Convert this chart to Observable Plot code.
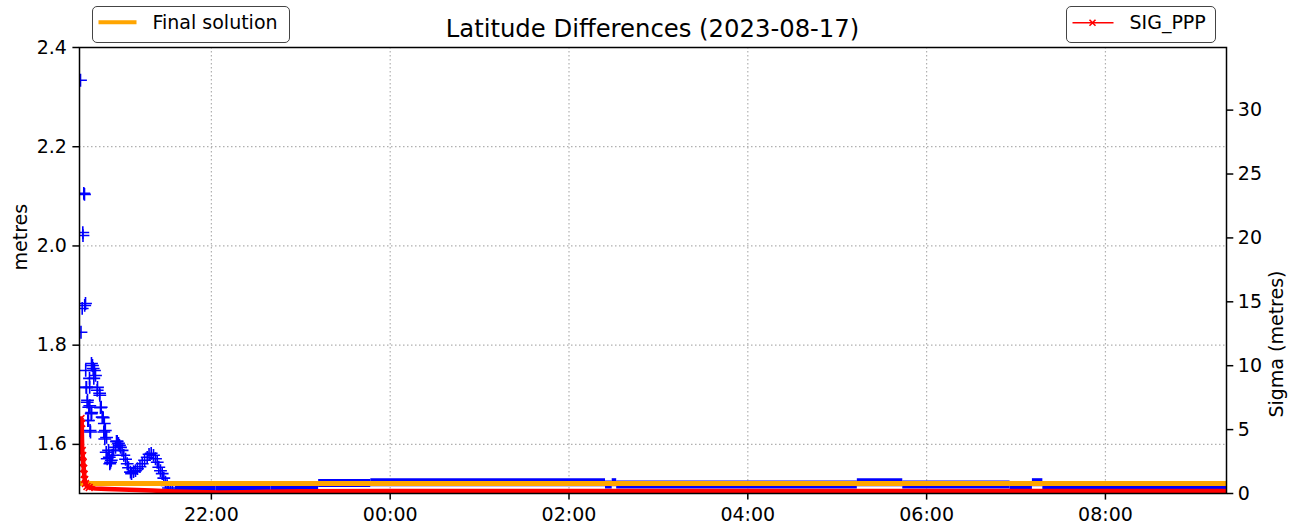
<!DOCTYPE html>
<html>
<head>
<meta charset="utf-8">
<script src="https://cdn.jsdelivr.net/npm/d3@7"></script>
<script src="https://cdn.jsdelivr.net/npm/@observablehq/plot@0.6"></script>
<style>
  body { margin: 0; background: #fff; font-family: "DejaVu Sans", sans-serif; }
  #wrap { position: relative; width: 1299px; height: 531px; overflow: hidden; }
  .title { position: absolute; left: 652.5px; top: 17px; transform: translateX(-50%); font-size: 24.3px; line-height: 24px; white-space: nowrap; color: #000; }
  .leg { position: absolute; box-sizing: border-box; border: 1.5px solid #444; border-radius: 5px; background: rgba(255,255,255,0.85); }
  .leg span { position: absolute; font-size: 19px; line-height: 19px; white-space: nowrap; color: #000; }
  .leg svg { position: absolute; left: 0; top: 0; }
</style>
</head>
<body>
<div id="wrap">
  <div id="chart"></div>
  <div class="title">Latitude Differences (2023-08-17)</div>
  <div class="leg" style="left:92px;top:6px;width:198px;height:37px;">
    <svg width="60" height="34"><line x1="5.5" x2="43.5" y1="15.2" y2="15.2" stroke="#ffa500" stroke-width="4"/></svg>
    <span style="left:59.5px;top:5.5px;">Final solution</span>
  </div>
  <div class="leg" style="left:1066px;top:6px;width:150px;height:37px;">
    <svg width="60" height="34"><line x1="5.5" x2="46.5" y1="15.8" y2="15.8" stroke="#ff0000" stroke-width="1.6"/><path d="M22.5,12.8L28.5,18.8M22.5,18.8L28.5,12.8" stroke="#ff0000" stroke-width="1.6" fill="none"/></svg>
    <span style="left:62.5px;top:5.5px;">SIG_PPP</span>
  </div>
</div>
<script>
// ---------------- data ----------------
const START = "20:31:30";
const END = "09:21:15";

const finalSolution = 1.5212;   // metres (orange line)

// Latitude differences, early convergence (metres)
const blueTime = ["20:32:10","20:32:30","20:33:19","20:33:43","20:33:50","20:34:23","20:34:51","20:35:00","20:35:32","20:35:40",
  "20:36:00","20:36:12","20:36:40","20:36:52","20:37:04","20:37:32","20:37:44","20:38:13","20:38:20","20:38:25",
  "20:38:35","20:38:53","20:39:21","20:39:33","20:39:40","20:40:13","20:40:41","20:41:06","20:41:34","20:42:14",
  "20:43:23","20:43:35","20:45:00","20:45:07","20:45:35","20:46:04","20:46:44","20:47:24","20:47:49","20:48:10",
  "20:48:29","20:48:50","20:49:25","20:49:40","20:50:05","20:51:00","20:51:30","20:51:50","20:52:20","20:52:50",
  "20:53:26","20:54:20","20:55:40","20:56:20","20:56:48","20:57:40","20:58:20","20:59:01","21:00:05","21:01:14",
  "21:02:25","21:03:31","21:04:25","21:05:44","21:06:25","21:07:45","21:09:05","21:10:25","21:12:05","21:13:35",
  "21:15:10","21:16:56","21:18:10","21:19:37","21:21:10","21:22:30","21:23:40","21:24:43","21:25:50","21:27:00",
  "21:28:05","21:29:13","21:30:20","21:31:15","21:32:34","21:33:55","21:35:56"];
const blueVal = [2.334,1.826,1.874,2.027,2.021,2.106,2.104,1.880,1.884,1.749,
  1.715,1.715,1.685,1.689,1.648,1.648,1.675,1.733,1.715,1.678,
  1.628,1.625,1.662,1.763,1.664,1.759,1.753,1.733,1.749,1.739,
  1.709,1.715,1.703,1.699,1.674,1.675,1.655,1.654,1.625,1.642,
  1.611,1.628,1.584,1.614,1.571,1.588,1.574,1.561,1.564,1.568,
  1.578,1.588,1.594,1.606,1.606,1.602,1.598,1.594,1.588,1.578,
  1.570,1.561,1.553,1.544,1.541,1.545,1.547,1.551,1.555,1.561,
  1.568,1.574,1.580,1.582,1.578,1.571,1.564,1.554,1.547,1.541,
  1.532,1.524,1.517,1.512,1.509,1.507,1.507];

// Latitude differences, converged part: constant levels (metres)
const segStart = ["21:36:00","22:03:00","22:40:00","23:12:00","23:47:00","02:24:30","02:29:00","02:32:00","05:13:30","05:44:00","06:56:00","07:11:00","07:18:00"];
const segEnd   = ["22:03:00","22:40:00","23:12:00","23:47:00","02:24:30","02:29:00","02:32:00","05:13:30","05:44:00","06:56:00","07:11:00","07:18:00","09:21:15"];
const segVal   = [1.5101,1.5111,1.5161,1.5222,1.5238,1.5191,1.5238,1.5191,1.5238,1.5191,1.5161,1.5238,1.5181];

// SIG_PPP (metres, right axis)
const sigTime = ["20:32:00","20:32:30","20:33:00","20:33:20","20:33:40","20:34:00","20:34:20","20:34:40","20:35:00","20:35:30",
  "20:36:30","20:38:00","20:42:00","20:50:00","21:00:00","21:10:00","21:20:00","21:35:00","21:50:00","22:05:00",
  "22:20:00","22:35:00","23:00:00","00:00:00","02:00:00","04:00:00","06:00:00","08:00:00","09:21:00"];
const sigVal = [5.63,5.87,5.48,3.36,2.97,2.43,1.96,1.49,1.10,0.78,
  0.55,0.47,0.39,0.35,0.31,0.27,0.23,0.16,0.12,0.08,
  0.10,0.14,0.17,0.19,0.19,0.19,0.19,0.19,0.19];

const yTicks = [1.6, 1.8, 2.0, 2.2, 2.4];
const sigTicks = [0, 5, 10, 15, 20, 25, 30];
const xTickLabels = ["22:00","00:00","02:00","04:00","06:00","08:00"];

const yDomain = [1.501, 2.4];
const sigDomain = [0, 34.9];

// ---------------- build ----------------
function parseT(s) {
  const [h, m, sec] = s.split(":").map(Number);
  const day = h >= 12 ? 17 : 18;
  return new Date(Date.UTC(2023, 7, day, h, m, sec || 0));
}
const s2y = d3.scaleLinear().domain(sigDomain).range(yDomain);

const blue = blueTime.map((t, i) => ({t: parseT(t), v: blueVal[i]}));
const segs = segStart.map((t, i) => ({t0: parseT(t), t1: parseT(segEnd[i]), v: segVal[i]}));
const sig = sigTime.map((t, i) => ({t: parseT(t), v: s2y(sigVal[i])}));
const sigEarly = sig.slice(0, 12);
const xTicks = xTickLabels.map(parseT);

const grid = {stroke: "#b0b0b0", strokeOpacity: 1, strokeWidth: 1.2, strokeDasharray: "1.5,2.5"};

const chart = Plot.plot({
  width: 1299,
  height: 531,
  marginLeft: 79,
  marginRight: 73,
  marginTop: 47,
  marginBottom: 38,
  style: {fontFamily: "DejaVu Sans, sans-serif", fontSize: "19px", background: "#fff", color: "#000"},
  x: {type: "utc", domain: [parseT(START), parseT(END)], axis: null, label: null},
  y: {domain: yDomain, axis: null, label: null},
  marks: [
    Plot.gridY(yTicks, grid),
    Plot.gridX(xTicks, grid),
    Plot.dot(blue, {x: "t", y: "v", symbol: "plus", r: 4.2, stroke: "#0000ff", strokeWidth: 1.6, clip: true}),
    Plot.ruleY(segs, {y: "v", x1: "t0", x2: "t1", stroke: "#0000ff", strokeWidth: 8, strokeLinecap: "butt", clip: true}),
    Plot.ruleY([finalSolution], {stroke: "#ffa500", strokeWidth: 5, clip: true}),
    Plot.line(sig, {x: "t", y: "v", stroke: "#ff0000", strokeWidth: 4.5, clip: true}),
    Plot.dot(sigEarly, {x: "t", y: "v", symbol: "times", r: 3.2, stroke: "#ff0000", strokeWidth: 1.6, clip: true}),
    Plot.frame({stroke: "#000", strokeWidth: 1.5}),
    Plot.axisY(yTicks, {anchor: "left", tickSize: 6.6, tickPadding: 6, strokeWidth: 1.5,
      tickFormat: d3.format(".1f"), fontSize: 19, label: null}),
    Plot.axisY(sigTicks.map(s => s2y(s)), {anchor: "right", tickSize: 6.3, tickPadding: 5, strokeWidth: 1.5,
      tickFormat: d => String(Math.round(s2y.invert(d))), fontSize: 19, label: null}),
    Plot.axisX(xTicks, {anchor: "bottom", tickSize: 6.6, tickPadding: 7, strokeWidth: 1.5,
      tickFormat: d3.utcFormat("%H:%M"), fontSize: 19, label: null}),
    Plot.text(["metres"], {frameAnchor: "left", dx: -59, rotate: -90, fontSize: 19, fill: "#000"}),
    Plot.text(["Sigma (metres)"], {frameAnchor: "right", dx: 50, rotate: -90, fontSize: 19, fill: "#000"})
  ]
});
document.getElementById("chart").appendChild(chart);
</script>
</body>
</html>
